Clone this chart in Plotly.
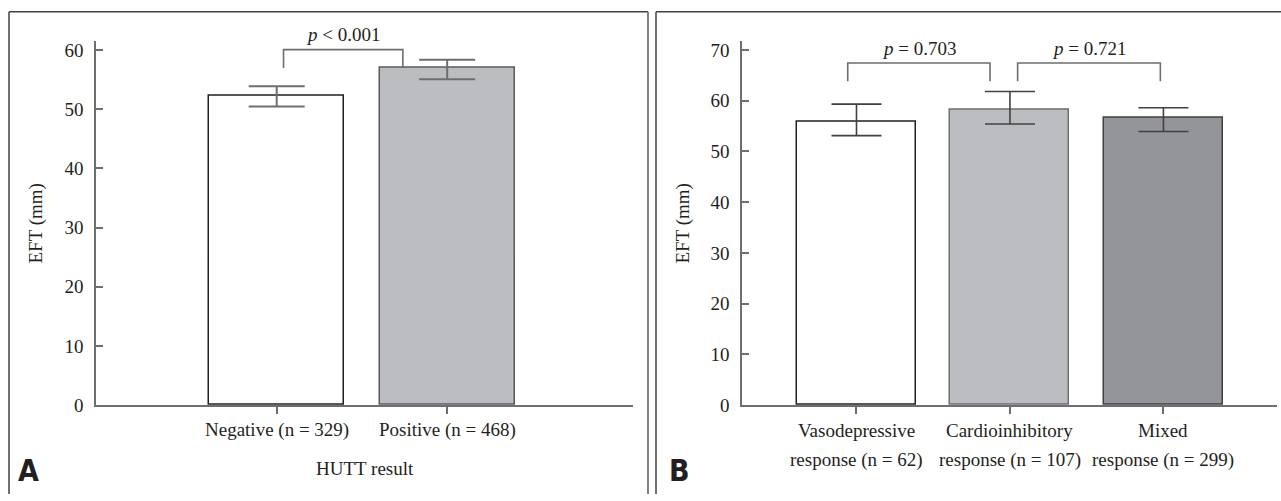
import plotly.graph_objects as go

W, H = 1281, 501

# ---------------- data ----------------
a_categories = ["Negative (n = 329)", "Positive (n = 468)"]
a_means = [52.3, 57.0]
a_err_plus = [1.6, 1.4]
a_err_minus = [1.8, 1.9]
a_xtitle = "HUTT result"
a_ptexts = ["<i>p</i> < 0.001"]
a_yticks = [0, 10, 20, 30, 40, 50, 60]

b_categories_line1 = ["Vasodepressive", "Cardioinhibitory", "Mixed"]
b_categories_line2 = ["response (n = 62)", "response (n = 107)", "response (n = 299)"]
b_means = [55.9, 58.3, 56.7]
b_err_plus = [3.4, 3.5, 1.9]
b_err_minus = [2.8, 2.9, 2.8]
b_ptexts = ["<i>p</i> = 0.703", "<i>p</i> = 0.721"]
b_yticks = [0, 10, 20, 30, 40, 50, 60, 70]

y_title = "EFT (mm)"
panel_letters = ["A", "B"]

# comparison brackets: (left x, right x, left foot, top, right foot) in data units
a_brackets = [(0.04, 0.74, 57.0, 60.1, 57.0)]
b_brackets = [(-0.057, 0.87, 63.8, 67.4, 63.8), (1.05, 1.98, 63.8, 67.4, 63.8)]

# ---------------- styles ----------------
SERIF = "Liberation Serif, Times New Roman, serif"
COND = "Liberation Sans Narrow, DejaVu Sans Condensed, Arial Narrow, sans-serif"
TXT = "#231f20"
AX = "#6d6e71"
FS = 19

def px_x(px):
    return px / W

def px_y(py):
    return 1 - py / H

y0_px, ytop_px = 414, 40.7

fig = go.Figure()

a_x = list(range(len(a_categories)))
b_x = list(range(len(b_categories_line1)))

fig.add_trace(go.Bar(
    x=a_x, y=a_means, width=0.79,
    marker=dict(color=["#ffffff", "#bcbdc1"], line=dict(color=["#231f20", "#58595b"], width=1.5)),
    error_y=dict(type="data", array=a_err_plus, arrayminus=a_err_minus,
                 color=AX, thickness=2, width=28),
    xaxis="x", yaxis="y", showlegend=False, hoverinfo="skip"))

fig.add_trace(go.Bar(
    x=b_x, y=b_means, width=0.775,
    marker=dict(color=["#ffffff", "#bcbdc1", "#939598"],
                line=dict(color=["#231f20", "#6d6e71", "#414042"], width=1.5)),
    error_y=dict(type="data", array=b_err_plus, arrayminus=b_err_minus,
                 color="#414042", thickness=1.6, width=25),
    xaxis="x2", yaxis="y2", showlegend=False, hoverinfo="skip"))

annotations = []
for brs, texts, xa, ya in [(a_brackets, a_ptexts, "x", "y"), (b_brackets, b_ptexts, "x2", "y2")]:
    for (l, r, fl, top, fr), t in zip(brs, texts):
        fig.add_trace(go.Scatter(x=[l, l, r, r], y=[fl, top, top, fr], mode="lines",
                                 line=dict(color=AX, width=1.6), xaxis=xa, yaxis=ya,
                                 showlegend=False, hoverinfo="skip"))
        annotations.append(dict(x=(l + r) / 2, y=top, xref=xa, yref=ya, text=t,
                                showarrow=False, yanchor="middle", yshift=15,
                                font=dict(family=SERIF, size=FS, color=TXT)))

# category labels
for i, c in zip(a_x, a_categories):
    annotations.append(dict(x=i, y=px_y(440), xref="x", yref="paper", text=c, showarrow=False,
                            yanchor="middle", font=dict(family=SERIF, size=FS, color=TXT)))
for i, c1, c2 in zip(b_x, b_categories_line1, b_categories_line2):
    annotations.append(dict(x=i, y=px_y(440), xref="x2", yref="paper", text=c1, showarrow=False,
                            yanchor="middle", font=dict(family=SERIF, size=FS, color=TXT)))
    annotations.append(dict(x=i, y=px_y(470), xref="x2", yref="paper", text=c2, showarrow=False,
                            yanchor="middle", font=dict(family=SERIF, size=FS, color=TXT)))

annotations.append(dict(x=0.5, y=px_y(479), xref="x domain", yref="paper", text=a_xtitle,
                        showarrow=False, yanchor="middle",
                        font=dict(family=SERIF, size=FS, color=TXT)))
for xp in [36, 683]:
    annotations.append(dict(x=px_x(xp), y=px_y(228), xref="paper", yref="paper", text=y_title,
                            textangle=-90, showarrow=False, xanchor="center", yanchor="middle",
                            font=dict(family=SERIF, size=FS, color=TXT)))
for xp, letter in zip([28, 679], panel_letters):
    annotations.append(dict(x=px_x(xp), y=px_y(481), xref="paper", yref="paper",
                            text="<b>" + letter + "</b>", showarrow=False,
                            xanchor="center", yanchor="middle",
                            font=dict(family=COND, size=30, color=TXT)))

ydom = [px_y(y0_px), px_y(ytop_px)]
common_y = dict(showline=True, linecolor=AX, linewidth=1.6, ticks="inside", ticklen=7,
                tickcolor=AX, tickwidth=1.6, showgrid=False, zeroline=False,
                tickfont=dict(family=SERIF, size=FS, color=TXT), ticklabelstandoff=7,
                domain=ydom)
common_x = dict(showline=True, linecolor=AX, linewidth=1.6, ticks="outside", ticklen=7,
                tickcolor=AX, tickwidth=1.6, showgrid=False, zeroline=False,
                showticklabels=False)

shapes = []
BC = "#414042"
# panel A frame
shapes.append(dict(type="line", xref="paper", yref="paper", x0=px_x(9), x1=px_x(9), y0=px_y(11), y1=px_y(505), line=dict(color=BC, width=1.5)))
shapes.append(dict(type="line", xref="paper", yref="paper", x0=px_x(9), x1=px_x(648), y0=px_y(11), y1=px_y(11), line=dict(color=BC, width=1.5)))
shapes.append(dict(type="line", xref="paper", yref="paper", x0=px_x(648), x1=px_x(648), y0=px_y(11), y1=px_y(505), line=dict(color="#808285", width=2)))
# panel B frame
shapes.append(dict(type="line", xref="paper", yref="paper", x0=px_x(656), x1=px_x(656), y0=px_y(11), y1=px_y(505), line=dict(color=BC, width=1.5)))
shapes.append(dict(type="line", xref="paper", yref="paper", x0=px_x(656), x1=px_x(1290), y0=px_y(11), y1=px_y(11), line=dict(color=BC, width=1.5)))

fig.update_layout(
    width=W, height=H, margin=dict(l=0, r=0, t=0, b=0),
    paper_bgcolor="white", plot_bgcolor="rgba(0,0,0,0)",
    xaxis=dict(domain=[px_x(96), px_x(633)], range=[-1.06, 2.09], tickvals=a_x, anchor="y", **common_x),
    yaxis=dict(range=[0, 61.6], tickvals=a_yticks, anchor="x", **common_y),
    xaxis2=dict(domain=[px_x(742), px_x(1277)], range=[-0.746, 2.74], tickvals=b_x, anchor="y2", **common_x),
    yaxis2=dict(range=[0, 71.8], tickvals=b_yticks, anchor="x2", **common_y),
    annotations=annotations, shapes=shapes, bargap=0,
)

fig.write_html("out.html", config={"displayModeBar": False})
with open("out.html", "r", encoding="utf-8") as f:
    html = f.read()
html = html.replace("<head>", "<head><style>html,body{margin:0;padding:0;overflow:hidden}</style>", 1)
with open("out.html", "w", encoding="utf-8") as f:
    f.write(html)
